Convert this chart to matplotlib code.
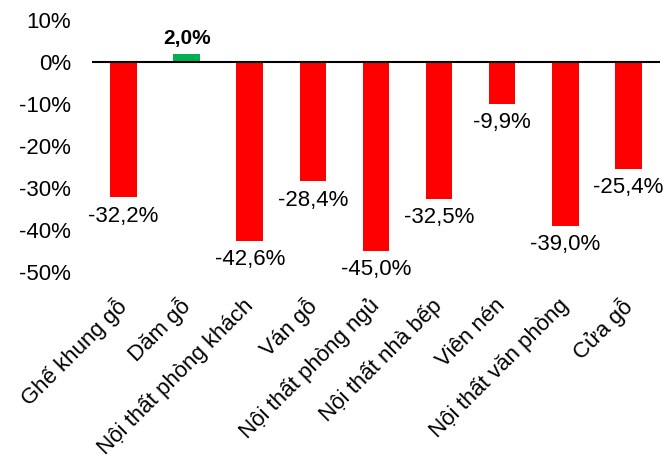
import matplotlib
matplotlib.use("Agg")
import matplotlib.pyplot as plt

categories = ["Ghế khung gỗ", "Dăm gỗ", "Nội thất phòng khách", "Ván gỗ",
              "Nội thất phòng ngủ", "Nội thất nhà bếp", "Viên nén",
              "Nội thất văn phòng", "Cửa gỗ"]
values = [-32.2, 2.0, -42.6, -28.4, -45.0, -32.5, -9.9, -39.0, -25.4]
yticks = [10, 0, -10, -20, -30, -40, -50]
ytick_labels = ["10%", "0%", "-10%", "-20%", "-30%", "-40%", "-50%"]

plt.rcParams['font.family'] = ['Liberation Sans', 'DejaVu Sans']

fig = plt.figure(figsize=(6.66, 4.59), dpi=100)
ax = fig.add_axes([0.138, 0.4074, 0.853, 0.549])

x = list(range(len(categories)))
colors = ["#00B050" if v >= 0 else "#FF0000" for v in values]
ax.bar(x, values, width=0.42, color=colors, zorder=2)
ax.axhline(0, color="black", linewidth=1.5, zorder=3)

for xi, v in zip(x, values):
    txt = f"{v:.1f}%".replace(".", ",")
    if v >= 0:
        ax.annotate(txt, (xi, v), xytext=(0, 4), textcoords="offset points",
                    ha="center", va="bottom", fontsize=15, fontweight="bold")
    else:
        ax.annotate(txt, (xi, v), xytext=(0, -6), textcoords="offset points",
                    ha="center", va="top", fontsize=16)

ax.set_xlim(-0.5, len(categories) - 0.5)
ax.set_ylim(-50, 10)
ax.set_yticks(yticks)
ax.set_yticklabels(ytick_labels, fontsize=16)
ax.set_xticks(x)
ax.set_xticklabels(categories, rotation=45, ha="right", va="center",
                   rotation_mode="anchor", fontsize=16)
ax.tick_params(axis="both", length=0)
ax.tick_params(axis="x", pad=22)
ax.tick_params(axis="y", pad=15)
for s in ax.spines.values():
    s.set_visible(False)

fig.savefig("out.png", dpi=100)
